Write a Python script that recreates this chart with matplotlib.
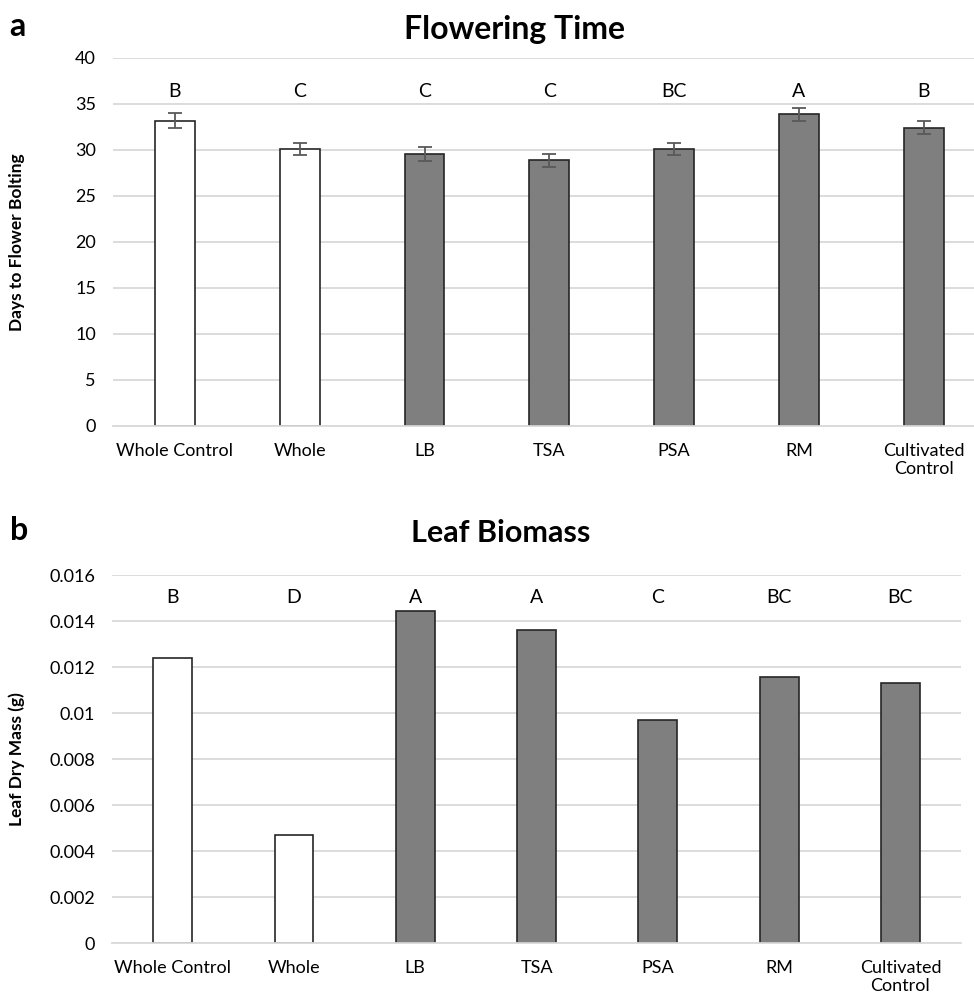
import matplotlib.pyplot as plt
import numpy as np

plt.rcParams['font.family'] = ['Lato', 'DejaVu Sans']

groups = ['Whole Control', 'Whole', 'LB', 'TSA', 'PSA', 'RM', 'Cultivated\nControl']
bar_fill = ['white', 'white', '#7f7f7f', '#7f7f7f', '#7f7f7f', '#7f7f7f', '#7f7f7f']

flower_days = [33.2, 30.15, 29.6, 28.9, 30.15, 33.9, 32.4]
flower_err = [0.8, 0.65, 0.75, 0.7, 0.65, 0.7, 0.7]
flower_letters = ['B', 'C', 'C', 'C', 'BC', 'A', 'B']

leaf_mass = [0.0124, 0.0047, 0.01445, 0.01362, 0.0097, 0.01158, 0.01130]
leaf_letters = ['B', 'D', 'A', 'A', 'C', 'BC', 'BC']


def style_axis(ax):
    for side in ['top', 'right', 'left']:
        ax.spines[side].set_visible(False)
    ax.spines['bottom'].set_color('#d9d9d9')
    ax.spines['bottom'].set_linewidth(1.3)
    ax.yaxis.grid(True, color='#d9d9d9', linewidth=1.3)
    ax.set_axisbelow(True)
    ax.tick_params(axis='both', length=0, labelsize=13, colors='black')
    ax.tick_params(axis='y', pad=12)
    ax.tick_params(axis='x', pad=12)
    ax.set_xticks(np.arange(len(groups)))
    ax.set_xticklabels(groups, va='top', linespacing=1.15)


fig = plt.figure(figsize=(9.74, 10), dpi=100)
x = np.arange(len(groups))

ax1 = fig.add_axes([0.1156, 0.574, 0.8967, 0.368])
ax1.bar(x, flower_days, width=0.32, color=bar_fill, edgecolor='#262626', linewidth=1.2,
        yerr=flower_err, error_kw=dict(ecolor='#595959', elinewidth=1.3, capsize=5, capthick=1.3))
ax1.set_xlim(-0.5, 6.5)
ax1.set_ylim(0, 40)
ax1.set_yticks(range(0, 41, 5))
style_axis(ax1)
for i, lab in enumerate(flower_letters):
    ax1.text(i, 36.4, lab, ha='center', va='center', fontsize=14)
ax1.set_ylabel('Days to Flower Bolting', fontsize=12.5, fontweight='bold')
ax1.yaxis.set_label_coords(-0.100, 0.5)

ax2 = fig.add_axes([0.115, 0.057, 0.8717, 0.368])
ax2.bar(x, leaf_mass, width=0.32, color=bar_fill, edgecolor='#262626', linewidth=1.2)
ax2.set_xlim(-0.5, 6.5)
ax2.set_ylim(0, 0.016)
ax2.set_yticks(np.arange(0, 0.0161, 0.002))
ax2.set_yticklabels(['0', '0.002', '0.004', '0.006', '0.008', '0.01', '0.012', '0.014', '0.016'])
style_axis(ax2)
for i, lab in enumerate(leaf_letters):
    ax2.text(i, 0.01504, lab, ha='center', va='center', fontsize=14)
ax2.set_ylabel('Leaf Dry Mass (g)', fontsize=12.5, fontweight='bold')
ax2.yaxis.set_label_coords(-0.102, 0.5)

fig.text(0.528, 0.970, 'Flowering Time', ha='center', va='center', fontsize=23, fontweight='bold')
fig.text(0.514, 0.467, 'Leaf Biomass', ha='center', va='center', fontsize=22, fontweight='bold')
fig.text(0.010, 0.973, 'a', ha='left', va='center', fontsize=23, fontweight='bold')
fig.text(0.010, 0.470, 'b', ha='left', va='center', fontsize=23, fontweight='bold')

fig.savefig('out.png', dpi=100)
